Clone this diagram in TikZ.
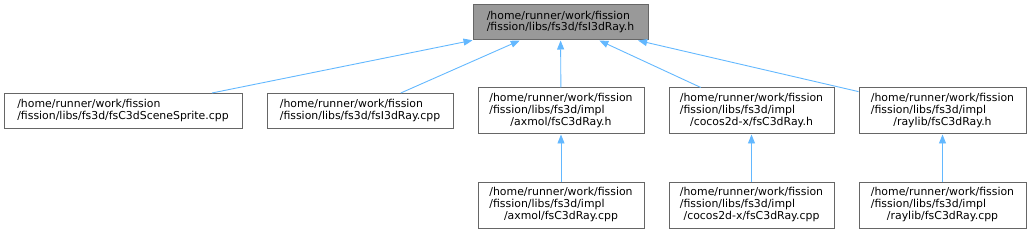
\documentclass[tikz,border=0pt]{standalone}
\usepackage{fontspec}
\setmainfont{DejaVu Sans}
\usetikzlibrary{arrows.meta}
\definecolor{edgeblue}{HTML}{63B8FF}
\definecolor{boxborder}{HTML}{666666}
\definecolor{topfill}{HTML}{999999}
\newcommand\twoline[2]{\begin{tabular}{@{}l@{}}#1\\\multicolumn{1}{@{}c@{}}{#2}\end{tabular}}
\newcommand\threeline[3]{\begin{tabular}{@{}l@{}}#1\\#2\\\multicolumn{1}{@{}c@{}}{#3}\end{tabular}}
\tikzset{
  filebox/.style={draw=boxborder, fill=white, line width=1pt, inner sep=0pt,
    minimum height=35pt, font=\fontsize{10.9}{11.5}\selectfont},
  tallbox/.style={filebox, minimum height=46pt},
  topbox/.style={filebox, fill=topfill},
  dep/.style={draw=edgeblue, line width=0.9pt, {Triangle[length=9pt,width=7pt]}-}
}
\begin{document}
\begin{tikzpicture}[x=1pt,y=-1pt]
\useasboundingbox (0,0) rectangle (1031,235);
\node[topbox, minimum width=175pt] (top) at (560.5,22.5) {\twoline{/home/runner/work/fission}{/fission/libs/fs3d/fsI3dRay.h}};
\node[filebox, minimum width=238pt] (a) at (123,111) {\twoline{/home/runner/work/fission}{/fission/libs/fs3d/fsC3dSceneSprite.cpp}};
\node[filebox, minimum width=186pt] (b) at (360,111) {\twoline{/home/runner/work/fission}{/fission/libs/fs3d/fsI3dRay.cpp}};
\node[tallbox, minimum width=166pt] (c) at (561,111) {\threeline{/home/runner/work/fission}{/fission/libs/fs3d/impl}{/axmol/fsC3dRay.h}};
\node[tallbox, minimum width=165pt] (d) at (751.5,111) {\threeline{/home/runner/work/fission}{/fission/libs/fs3d/impl}{/cocos2d-x/fsC3dRay.h}};
\node[tallbox, minimum width=167pt] (e) at (942.5,111) {\threeline{/home/runner/work/fission}{/fission/libs/fs3d/impl}{/raylib/fsC3dRay.h}};
\node[tallbox, minimum width=166pt] (f) at (561,205) {\threeline{/home/runner/work/fission}{/fission/libs/fs3d/impl}{/axmol/fsC3dRay.cpp}};
\node[tallbox, minimum width=165pt] (g) at (751.5,205) {\threeline{/home/runner/work/fission}{/fission/libs/fs3d/impl}{/cocos2d-x/fsC3dRay.cpp}};
\node[tallbox, minimum width=167pt] (h) at (942.5,205) {\threeline{/home/runner/work/fission}{/fission/libs/fs3d/impl}{/raylib/fsC3dRay.cpp}};
\draw[dep] (top) -- (a);
\draw[dep] (top) -- (b);
\draw[dep] (top) -- (c);
\draw[dep] (top) -- (d);
\draw[dep] (top) -- (e);
\draw[dep] (c) -- (f);
\draw[dep] (d) -- (g);
\draw[dep] (e) -- (h);
\end{tikzpicture}
\end{document}
